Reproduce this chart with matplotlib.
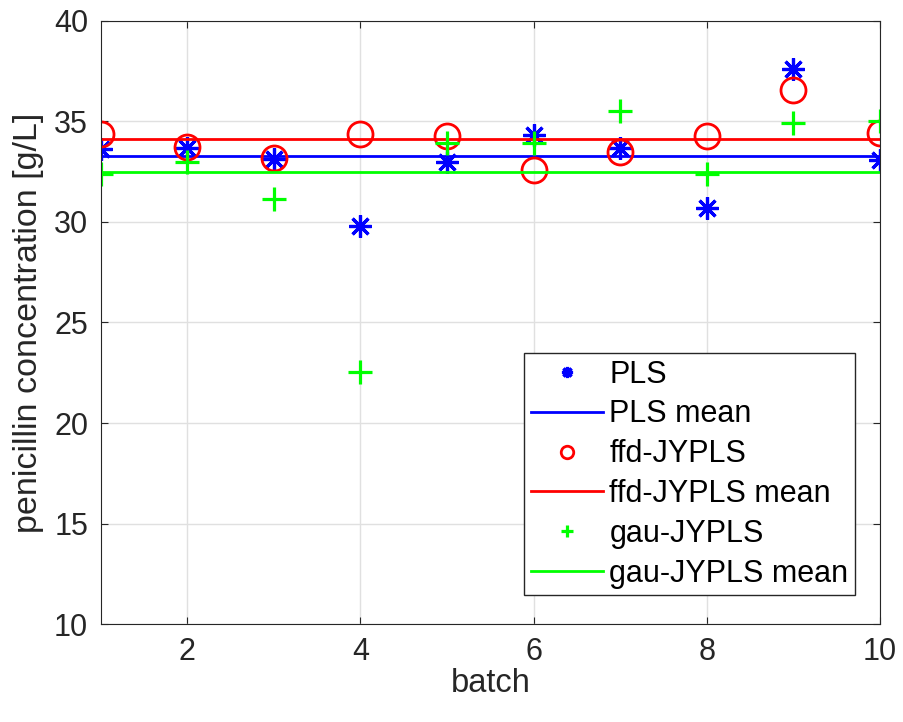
import numpy as np
from matplotlib import pyplot as plt, rcParams

rcParams.update({
    'font.family': ['Liberation Sans', 'DejaVu Sans'],
    'font.size': 22,
    'axes.edgecolor': '0.15',
    'xtick.color': '0.15',
    'ytick.color': '0.15',
    'axes.labelcolor': '0.15',
})

batch = np.arange(1, 11)
pls = [33.60, 33.68, 33.14, 29.80, 32.97, 34.34, 33.68, 30.71, 37.59, 33.10]
ffd_jypls = [34.38, 33.71, 33.19, 34.39, 34.26, 32.57, 33.47, 34.29, 36.57, 34.42]
gau_jypls = [32.36, 32.97, 31.16, 22.54, 33.93, 33.93, 35.53, 32.36, 34.92, 35.03]

fig = plt.figure(figsize=(9.04, 7.22), dpi=100)
ax = fig.add_axes([0.1114, 0.1354, 0.8621, 0.8359])

star = (8, 2, 0)
ax.plot(batch, pls, linestyle='none', marker=star, ms=16, mew=2.3,
        color='blue', label='PLS')
ax.plot([batch[0], batch[-1]], [np.mean(pls)] * 2, color='blue', lw=2,
        label='PLS mean')
ax.plot(batch, ffd_jypls, linestyle='none', marker='o', ms=18, mew=2,
        mfc='none', color='red', label='ffd-JYPLS')
ax.plot([batch[0], batch[-1]], [np.mean(ffd_jypls)] * 2, color='red', lw=2,
        label='ffd-JYPLS mean')
ax.plot(batch, gau_jypls, linestyle='none', marker='+', ms=17, mew=2.3,
        color=(0, 1, 0), label='gau-JYPLS')
ax.plot([batch[0], batch[-1]], [np.mean(gau_jypls)] * 2, color=(0, 1, 0), lw=2,
        label='gau-JYPLS mean')

ax.set_xlim(1, 10)
ax.set_ylim(10, 40)
ax.set_xticks([2, 4, 6, 8, 10])
ax.set_yticks(np.arange(10, 41, 5))
ax.grid(True, color='0.88', lw=1)
ax.set_axisbelow(True)
ax.tick_params(direction='in', length=5, top=True, right=True, pad=9)
ax.set_xlabel('batch', fontsize=23.5, labelpad=1)
ax.set_ylabel('penicillin concentration [g/L]', fontsize=24.5)
ax.yaxis.set_label_coords(-0.073, 0.5)

leg = ax.legend(loc='lower right', bbox_to_anchor=(0.968, 0.048),
                fancybox=False, framealpha=1, edgecolor='0.15',
                markerscale=0.5, handlelength=2.35, handletextpad=0.22,
                labelspacing=0.32, borderpad=0.22, borderaxespad=0)
leg.get_frame().set_linewidth(1)

fig.savefig('out.png', dpi=100)
